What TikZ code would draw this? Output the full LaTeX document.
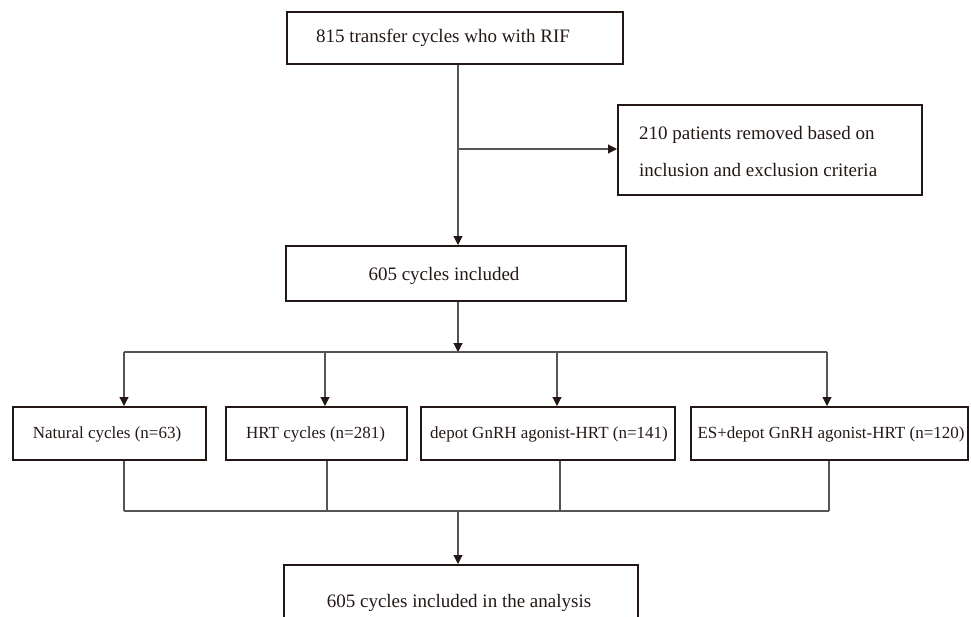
\documentclass[tikz,border=0pt]{standalone}
\usepackage{fontspec}
\setmainfont{Liberation Serif}
\usetikzlibrary{arrows.meta}
\definecolor{inkc}{HTML}{231815}
\definecolor{linec}{HTML}{555555}
\tikzset{
  box/.style={draw=inkc, line width=2pt, rectangle, inner sep=0pt},
  txt/.style={text=inkc, inner sep=0pt, font=\fontsize{19}{23}\selectfont},
  stxt/.style={text=inkc, inner sep=0pt, font=\fontsize{17}{20}\selectfont},
  conn/.style={draw=linec, line width=1.1pt},
  arr/.style={conn, -{Triangle[width=9pt,length=9pt,fill=inkc,color=inkc]}},
}
\begin{document}
\begin{tikzpicture}[x=1pt,y=-1pt]
\useasboundingbox (0,0) rectangle (971,616);
\begin{scope}
\clip (0,0) rectangle (971,616);
% boxes
\node[box, minimum width=336pt, minimum height=52pt] (top) at (455,38) {};
\node[txt] (toptxt) at (443,38) {815 transfer cycles who with RIF};
\node[box, minimum width=304pt, minimum height=90pt] (excl) at (770,150) {};
\node[txt, anchor=west, align=left, font=\fontsize{19}{37}\selectfont] (excltxt) at (639,151) {210 patients removed based on\\inclusion and exclusion criteria};
\node[box, minimum width=340pt, minimum height=55pt] (inc) at (456,273.5) {};
\node[txt] (inctxt) at (444,276) {605 cycles included};
\node[box, minimum width=193pt, minimum height=53pt] (n1) at (109.5,433.5) {};
\node[stxt] (n1t) at (107,434) {Natural cycles (n=63)};
\node[box, minimum width=181pt, minimum height=53pt] (n2) at (316.5,433.5) {};
\node[stxt] (n2t) at (315.5,434) {HRT cycles (n=281)};
\node[box, minimum width=254pt, minimum height=53pt] (n3) at (548,433.5) {};
\node[stxt] (n3t) at (549,434) {depot GnRH agonist-HRT (n=141)};
\node[box, minimum width=277pt, minimum height=53pt] (n4) at (829.5,433.5) {};
\node[stxt] (n4t) at (831,434) {ES+depot GnRH agonist-HRT (n=120)};
\node[box, minimum width=354pt, minimum height=80pt] (fin) at (461,605) {};
\node[txt] (fintxt) at (459,603) {605 cycles included in the analysis};
% junction coordinates
\coordinate (sp) at (458,149);
\coordinate (s1) at (458,352);
\coordinate (b1) at (124,352);
\coordinate (b2) at (325,352);
\coordinate (b3) at (557,352);
\coordinate (b4) at (827,352);
\coordinate (c1) at (124,511);
\coordinate (c2) at (327,511);
\coordinate (c3) at (560,511);
\coordinate (c4) at (829,511);
\coordinate (cm) at (458,511);
% connectors
\draw[arr] (top.south -| sp) -- (inc.north -| sp);
\draw[arr] (sp) -- (excl.west |- sp);
\draw[arr] (inc.south -| s1) -- (s1);
\draw[conn] (b1) -- (b4);
\draw[arr] (b1) -- (n1.north -| b1);
\draw[arr] (b2) -- (n2.north -| b2);
\draw[arr] (b3) -- (n3.north -| b3);
\draw[arr] (b4) -- (n4.north -| b4);
\draw[conn] (n1.south -| c1) -- (c1);
\draw[conn] (n2.south -| c2) -- (c2);
\draw[conn] (n3.south -| c3) -- (c3);
\draw[conn] (n4.south -| c4) -- (c4);
\draw[conn] (c1) -- (c4);
\draw[arr] (cm) -- (fin.north -| cm);
\end{scope}
\end{tikzpicture}
\end{document}
